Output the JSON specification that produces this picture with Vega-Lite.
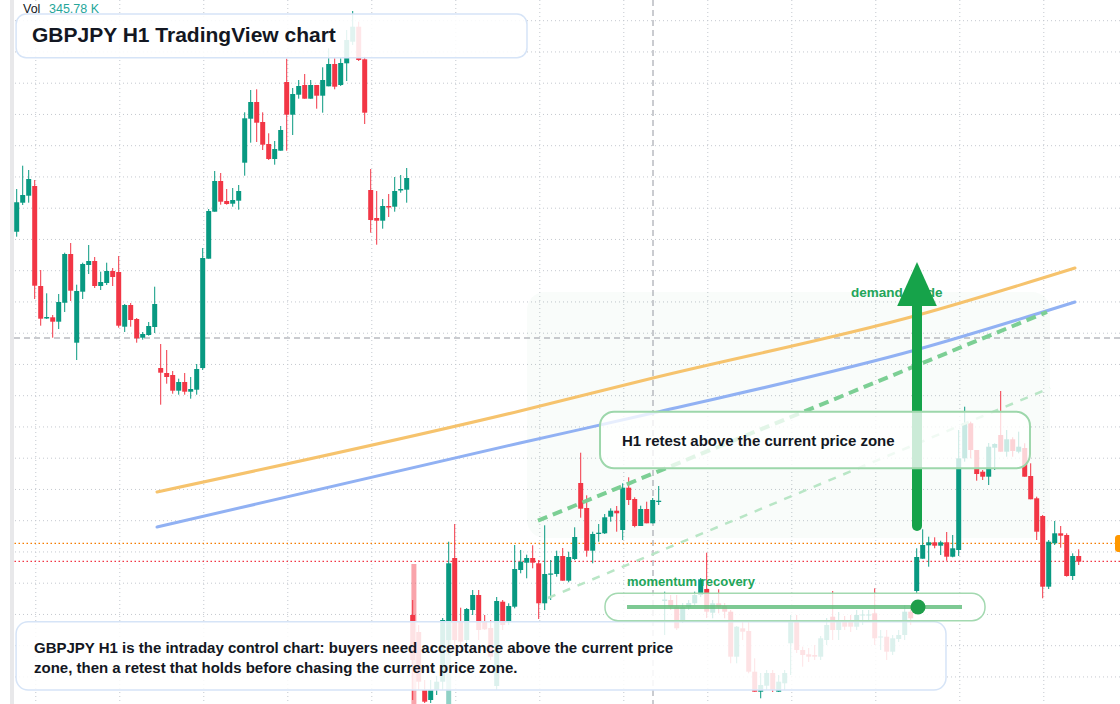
{
"$schema":"https://vega.github.io/schema/vega-lite/v6.json",
"width":1120,"height":704,"padding":0,
"autosize":{"type":"none"},
"background":"#ffffff",
"config":{"axis":{"disable":true},"view":{"stroke":null},"legend":{"disable":true},"scale":{"continuousPadding":0}},
"datasets":{
"candles":[
{"t":0,"o":198.683,"h":199.11,"l":198.633,"c":198.977},
{"t":1,"o":198.973,"h":199.343,"l":198.95,"c":199.05},
{"t":2,"o":199.043,"h":199.3,"l":198.973,"c":199.21},
{"t":3,"o":199.14,"h":199.2,"l":198.01,"c":198.143},
{"t":4,"o":198.14,"h":198.3,"l":197.743,"c":197.813},
{"t":5,"o":197.815,"h":198.067,"l":197.81,"c":197.83},
{"t":6,"o":197.827,"h":197.85,"l":197.623,"c":197.783},
{"t":7,"o":197.783,"h":198.06,"l":197.71,"c":197.98},
{"t":8,"o":197.973,"h":198.473,"l":197.88,"c":198.46},
{"t":9,"o":198.46,"h":198.57,"l":197.99,"c":198.093},
{"t":10,"o":197.573,"h":198.153,"l":197.4,"c":198.09},
{"t":11,"o":198.083,"h":198.373,"l":198.01,"c":198.36},
{"t":12,"o":198.35,"h":198.55,"l":198.26,"c":198.39},
{"t":13,"o":198.39,"h":198.43,"l":198.12,"c":198.14},
{"t":14,"o":198.14,"h":198.283,"l":198.1,"c":198.18},
{"t":15,"o":198.17,"h":198.373,"l":198.15,"c":198.29},
{"t":16,"o":198.29,"h":198.32,"l":198.14,"c":198.23},
{"t":17,"o":198.28,"h":198.44,"l":197.723,"c":197.743},
{"t":18,"o":197.733,"h":197.96,"l":197.68,"c":197.95},
{"t":19,"o":197.95,"h":197.97,"l":197.733,"c":197.8},
{"t":20,"o":197.81,"h":197.82,"l":197.573,"c":197.617},
{"t":21,"o":197.623,"h":197.68,"l":197.603,"c":197.66},
{"t":22,"o":197.65,"h":197.78,"l":197.643,"c":197.74},
{"t":23,"o":197.73,"h":198.133,"l":197.67,"c":197.96},
{"t":24,"o":197.32,"h":197.56,"l":196.953,"c":197.273},
{"t":25,"o":197.27,"h":197.5,"l":197.163,"c":197.23},
{"t":26,"o":197.25,"h":197.29,"l":197.063,"c":197.093},
{"t":27,"o":197.093,"h":197.213,"l":197.053,"c":197.18},
{"t":28,"o":197.18,"h":197.27,"l":197.053,"c":197.083},
{"t":29,"o":197.083,"h":197.23,"l":197.013,"c":197.11},
{"t":30,"o":197.103,"h":197.36,"l":197.053,"c":197.31},
{"t":31,"o":197.32,"h":198.52,"l":197.3,"c":198.42},
{"t":32,"o":198.413,"h":198.91,"l":198.413,"c":198.89},
{"t":33,"o":198.883,"h":199.29,"l":198.883,"c":199.19},
{"t":34,"o":199.19,"h":199.27,"l":198.953,"c":198.983},
{"t":35,"o":198.99,"h":199.11,"l":198.953,"c":198.96},
{"t":36,"o":198.963,"h":199.12,"l":198.933,"c":199.0},
{"t":37,"o":198.993,"h":199.15,"l":198.903,"c":199.09},
{"t":38,"o":199.373,"h":199.877,"l":199.243,"c":199.817},
{"t":39,"o":199.813,"h":200.1,"l":199.573,"c":199.98},
{"t":40,"o":199.98,"h":200.107,"l":199.58,"c":199.773},
{"t":41,"o":199.78,"h":199.877,"l":199.5,"c":199.553},
{"t":42,"o":199.56,"h":199.667,"l":199.4,"c":199.41},
{"t":43,"o":199.41,"h":199.59,"l":199.353,"c":199.51},
{"t":44,"o":199.493,"h":199.74,"l":199.493,"c":199.7},
{"t":45,"o":200.18,"h":200.413,"l":199.493,"c":199.853},
{"t":46,"o":199.853,"h":200.12,"l":199.65,"c":200.06},
{"t":47,"o":200.053,"h":200.2,"l":200.013,"c":200.14},
{"t":48,"o":200.15,"h":200.26,"l":200.013,"c":200.013},
{"t":49,"o":200.013,"h":200.2,"l":200.013,"c":200.15},
{"t":50,"o":200.15,"h":200.15,"l":199.913,"c":200.043},
{"t":51,"o":200.043,"h":200.327,"l":199.873,"c":200.2},
{"t":52,"o":200.137,"h":200.517,"l":200.137,"c":200.36},
{"t":53,"o":200.36,"h":200.417,"l":200.107,"c":200.133},
{"t":54,"o":200.15,"h":200.417,"l":200.14,"c":200.37},
{"t":55,"o":200.367,"h":200.7,"l":200.19,"c":200.6},
{"t":56,"o":200.583,"h":200.89,"l":200.55,"c":200.733},
{"t":57,"o":200.733,"h":200.783,"l":200.39,"c":200.4},
{"t":58,"o":200.407,"h":200.433,"l":199.76,"c":199.873},
{"t":59,"o":199.1,"h":199.31,"l":198.673,"c":198.8},
{"t":60,"o":198.82,"h":199.09,"l":198.553,"c":198.793},
{"t":61,"o":198.793,"h":199.01,"l":198.713,"c":198.94},
{"t":62,"o":198.94,"h":199.06,"l":198.83,"c":198.925},
{"t":63,"o":198.933,"h":199.23,"l":198.883,"c":199.09},
{"t":64,"o":199.095,"h":199.25,"l":199.073,"c":199.11},
{"t":65,"o":199.103,"h":199.32,"l":198.973,"c":199.22},
{"t":66,"o":194.85,"h":195.0,"l":194.0,"c":194.4},
{"t":67,"o":194.68,"h":194.75,"l":194.1,"c":194.183},
{"t":68,"o":194.1,"h":194.2,"l":193.97,"c":193.983},
{"t":69,"o":194.0,"h":194.2,"l":193.97,"c":194.1},
{"t":70,"o":194.1,"h":194.24,"l":194.05,"c":194.183},
{"t":71,"o":194.183,"h":194.82,"l":194.1,"c":194.8},
{"t":72,"o":194.6,"h":195.583,"l":194.45,"c":195.367},
{"t":73,"o":195.42,"h":195.76,"l":194.5,"c":194.6},
{"t":74,"o":194.79,"h":194.923,"l":194.52,"c":194.583},
{"t":75,"o":194.6,"h":194.92,"l":194.55,"c":194.91},
{"t":76,"o":194.9,"h":195.1,"l":194.85,"c":195.05},
{"t":77,"o":195.05,"h":195.1,"l":194.6,"c":194.7},
{"t":78,"o":194.79,"h":194.85,"l":194.7,"c":194.707},
{"t":79,"o":194.72,"h":194.8,"l":194.4,"c":194.433},
{"t":80,"o":194.14,"h":195.03,"l":194.1,"c":194.99},
{"t":81,"o":194.983,"h":195.0,"l":194.7,"c":194.75},
{"t":82,"o":194.787,"h":194.967,"l":194.75,"c":194.94},
{"t":83,"o":194.933,"h":195.55,"l":194.917,"c":195.31},
{"t":84,"o":195.3,"h":195.5,"l":195.267,"c":195.383},
{"t":85,"o":195.373,"h":195.453,"l":195.217,"c":195.42},
{"t":86,"o":195.42,"h":195.547,"l":195.317,"c":195.373},
{"t":87,"o":195.367,"h":195.4,"l":194.81,"c":194.967},
{"t":88,"o":194.967,"h":195.747,"l":194.9,"c":195.26},
{"t":89,"o":195.253,"h":195.4,"l":195.0,"c":195.265},
{"t":90,"o":195.26,"h":195.493,"l":195.233,"c":195.44},
{"t":91,"o":195.44,"h":195.52,"l":195.193,"c":195.193},
{"t":92,"o":195.193,"h":195.483,"l":195.177,"c":195.43},
{"t":93,"o":195.41,"h":195.727,"l":195.4,"c":195.63},
{"t":94,"o":196.17,"h":196.473,"l":195.823,"c":195.913},
{"t":95,"o":195.92,"h":196.047,"l":195.433,"c":195.493},
{"t":96,"o":195.493,"h":195.683,"l":195.367,"c":195.66},
{"t":97,"o":195.66,"h":195.76,"l":195.583,"c":195.673},
{"t":98,"o":195.667,"h":195.86,"l":195.66,"c":195.827},
{"t":99,"o":195.833,"h":195.917,"l":195.783,"c":195.893},
{"t":100,"o":195.893,"h":195.94,"l":195.683,"c":195.867},
{"t":101,"o":195.7,"h":196.167,"l":195.6,"c":196.123},
{"t":102,"o":196.123,"h":196.227,"l":195.95,"c":196.0},
{"t":103,"o":196.01,"h":196.027,"l":195.727,"c":195.74},
{"t":104,"o":195.74,"h":195.943,"l":195.74,"c":195.91},
{"t":105,"o":195.91,"h":195.983,"l":195.767,"c":195.767},
{"t":106,"o":195.767,"h":196.02,"l":195.767,"c":196.0},
{"t":107,"o":195.98,"h":196.14,"l":195.95,"c":195.993},
{"t":108,"o":194.99,"h":195.083,"l":194.65,"c":195.005},
{"t":109,"o":195.0,"h":195.05,"l":194.9,"c":194.933},
{"t":110,"o":194.933,"h":195.05,"l":194.7,"c":194.717},
{"t":111,"o":194.783,"h":194.97,"l":194.77,"c":194.93},
{"t":112,"o":194.927,"h":195.0,"l":194.9,"c":194.97},
{"t":113,"o":194.967,"h":195.083,"l":194.95,"c":195.05},
{"t":114,"o":195.05,"h":195.22,"l":195.03,"c":195.207},
{"t":115,"o":195.11,"h":195.473,"l":194.82,"c":194.883},
{"t":116,"o":194.873,"h":195.0,"l":194.817,"c":194.967},
{"t":117,"o":194.967,"h":195.107,"l":194.867,"c":194.927},
{"t":118,"o":194.94,"h":194.97,"l":194.817,"c":194.883},
{"t":119,"o":194.883,"h":194.9,"l":194.367,"c":194.433},
{"t":120,"o":194.433,"h":194.74,"l":194.367,"c":194.733},
{"t":121,"o":194.717,"h":194.8,"l":194.6,"c":194.683},
{"t":122,"o":194.69,"h":194.8,"l":194.267,"c":194.283},
{"t":123,"o":194.283,"h":194.417,"l":194.083,"c":194.083},
{"t":124,"o":194.083,"h":194.27,"l":194.017,"c":194.15},
{"t":125,"o":194.143,"h":194.3,"l":194.1,"c":194.27},
{"t":126,"o":194.27,"h":194.3,"l":194.08,"c":194.1},
{"t":127,"o":194.083,"h":194.25,"l":194.08,"c":194.183},
{"t":128,"o":194.167,"h":194.3,"l":194.1,"c":194.27},
{"t":129,"o":194.567,"h":194.85,"l":194.25,"c":194.8},
{"t":130,"o":194.8,"h":194.85,"l":194.47,"c":194.5},
{"t":131,"o":194.5,"h":194.533,"l":194.333,"c":194.45},
{"t":132,"o":194.457,"h":194.52,"l":194.38,"c":194.433},
{"t":133,"o":194.45,"h":194.55,"l":194.4,"c":194.433},
{"t":134,"o":194.433,"h":194.64,"l":194.4,"c":194.617},
{"t":135,"o":194.6,"h":194.82,"l":194.55,"c":194.75},
{"t":136,"o":194.833,"h":195.09,"l":194.6,"c":194.7},
{"t":137,"o":194.7,"h":194.88,"l":194.6,"c":194.8},
{"t":138,"o":194.783,"h":194.84,"l":194.7,"c":194.733},
{"t":139,"o":194.783,"h":194.85,"l":194.68,"c":194.733},
{"t":140,"o":194.733,"h":194.9,"l":194.7,"c":194.85},
{"t":141,"o":194.845,"h":194.9,"l":194.75,"c":194.855},
{"t":142,"o":194.845,"h":194.9,"l":194.8,"c":194.855},
{"t":143,"o":194.867,"h":195.117,"l":194.55,"c":194.617},
{"t":144,"o":194.625,"h":194.7,"l":194.5,"c":194.635},
{"t":145,"o":194.633,"h":194.7,"l":194.4,"c":194.483},
{"t":146,"o":194.483,"h":194.65,"l":194.45,"c":194.617},
{"t":147,"o":194.61,"h":194.7,"l":194.58,"c":194.65},
{"t":148,"o":194.65,"h":194.95,"l":194.6,"c":194.883},
{"t":149,"o":194.883,"h":194.95,"l":194.75,"c":194.817},
{"t":150,"o":195.09,"h":195.517,"l":195.067,"c":195.43},
{"t":151,"o":195.413,"h":195.707,"l":195.413,"c":195.55},
{"t":152,"o":195.547,"h":195.633,"l":195.333,"c":195.577},
{"t":153,"o":195.577,"h":195.627,"l":195.517,"c":195.543},
{"t":154,"o":195.543,"h":195.593,"l":195.45,"c":195.577},
{"t":155,"o":195.577,"h":195.68,"l":195.393,"c":195.433},
{"t":156,"o":195.433,"h":195.65,"l":195.427,"c":195.517},
{"t":157,"o":195.5,"h":196.7,"l":195.44,"c":196.417},
{"t":158,"o":196.417,"h":196.933,"l":196.383,"c":196.767},
{"t":159,"o":196.767,"h":196.783,"l":196.417,"c":196.5},
{"t":160,"o":196.5,"h":196.5,"l":196.193,"c":196.26},
{"t":161,"o":196.283,"h":196.3,"l":196.2,"c":196.233},
{"t":162,"o":196.233,"h":196.57,"l":196.15,"c":196.533},
{"t":163,"o":196.523,"h":196.567,"l":196.3,"c":196.56},
{"t":164,"o":196.65,"h":197.09,"l":196.483,"c":196.483},
{"t":165,"o":196.483,"h":196.7,"l":196.433,"c":196.607},
{"t":166,"o":196.607,"h":196.627,"l":196.433,"c":196.49},
{"t":167,"o":196.483,"h":196.683,"l":196.467,"c":196.533},
{"t":168,"o":196.52,"h":196.567,"l":196.233,"c":196.233},
{"t":169,"o":196.24,"h":196.367,"l":196.007,"c":196.007},
{"t":170,"o":196.017,"h":196.033,"l":195.6,"c":195.683},
{"t":171,"o":195.84,"h":195.85,"l":195.017,"c":195.133},
{"t":172,"o":195.133,"h":195.6,"l":195.11,"c":195.583},
{"t":173,"o":195.567,"h":195.79,"l":195.55,"c":195.667},
{"t":174,"o":195.667,"h":195.74,"l":195.523,"c":195.643},
{"t":175,"o":195.65,"h":195.667,"l":195.233,"c":195.24},
{"t":176,"o":195.24,"h":195.467,"l":195.2,"c":195.44},
{"t":177,"o":195.44,"h":195.507,"l":195.35,"c":195.383}
],
"vol":[{"t":66.2,"p":195.36,"dir":"down"},{"t":72,"p":194.8,"dir":"up"}],
"gridy":[{"p":200.793},{"p":200.4805},{"p":200.168},{"p":199.8555},{"p":199.543},{"p":199.2305},{"p":198.918},{"p":198.6055},{"p":198.293},{"p":197.9805},{"p":197.668},{"p":197.3555},{"p":197.043},{"p":196.7305},{"p":196.418},{"p":196.1055},{"p":195.793},{"p":195.4805},{"p":195.168},{"p":194.8555},{"p":194.543},{"p":194.2305}],
"gridx":[{"t":3.183},{"t":17.183},{"t":31.183},{"t":45.183},{"t":59.183},{"t":73.183},{"t":87.183},{"t":101.183},{"t":115.183},{"t":129.183},{"t":143.183},{"t":157.183},{"t":171.183}],
"orange":[{"t":23.38,"p":196.08},{"t":83.88,"p":196.89},{"t":106.05,"p":197.22},{"t":150.25,"p":197.85},{"t":176.38,"p":198.32}],
"blue":[{"t":23.38,"p":195.73},{"t":83.88,"p":196.57},{"t":106.05,"p":196.87},{"t":150.25,"p":197.507},{"t":176.38,"p":197.98}]
},
"layer":[
{"data":{"name":"gridy"},"mark":{"type":"rule","strokeDash":[1,3],"color":"#c4c8cf","strokeWidth":1},
 "encoding":{"y":{"field":"p","type":"quantitative","scale":{"domain":[193.96,201.0]}}}},
{"data":{"name":"gridx"},"mark":{"type":"rule","strokeDash":[1,3],"color":"#c4c8cf","strokeWidth":1},
 "encoding":{"x":{"field":"t","type":"quantitative","scale":{"domain":[-2.783,183.883]}}}},
{"data":{"values":[{"t":85.05,"t2":172.22,"p":198.08,"p2":195.62}]},"mark":{"type":"rect","color":"#16a34a","opacity":0.028,"cornerRadius":18},
 "encoding":{"x":{"field":"t","type":"quantitative","scale":{"domain":[-2.783,183.883]}},"x2":{"field":"t2"},"y":{"field":"p","type":"quantitative","scale":{"domain":[193.96,201.0]}},"y2":{"field":"p2"}}},
{"data":{"name":"vol"},"mark":{"type":"bar","width":5,"opacity":0.45},
 "encoding":{"x":{"field":"t","type":"quantitative","scale":{"domain":[-2.783,183.883]}},"y":{"field":"p","type":"quantitative","scale":{"domain":[193.96,201.0]}},"y2":{"datum":193.96},
  "color":{"condition":{"test":"datum.dir == 'up'","value":"#089981"},"value":"#f23645"}}},
{"data":{"values":[{"p":195.567}]},"mark":{"type":"rule","strokeDash":[1.5,2.5],"color":"#f57c00","strokeWidth":1.2},
 "encoding":{"y":{"field":"p","type":"quantitative","scale":{"domain":[193.96,201.0]}}}},
{"data":{"values":[{"p":195.387}]},"mark":{"type":"rule","strokeDash":[1.5,2.5],"color":"#f23645","strokeWidth":1.2},
 "encoding":{"y":{"field":"p","type":"quantitative","scale":{"domain":[193.96,201.0]}}}},
{"data":{"values":[{"p":197.62}]},"mark":{"type":"rule","strokeDash":[6,4],"color":"#9598a1","strokeWidth":1},
 "encoding":{"y":{"field":"p","type":"quantitative","scale":{"domain":[193.96,201.0]}}}},
{"data":{"values":[{"t":106.05}]},"mark":{"type":"rule","strokeDash":[6,4],"color":"#9598a1","strokeWidth":1},
 "encoding":{"x":{"field":"t","type":"quantitative","scale":{"domain":[-2.783,183.883]}}}},
{"data":{"name":"candles"},"mark":{"type":"rule","strokeWidth":1},
 "encoding":{"x":{"field":"t","type":"quantitative","scale":{"domain":[-2.783,183.883]}},"y":{"field":"l","type":"quantitative","scale":{"domain":[193.96,201.0]}},"y2":{"field":"h"},
  "color":{"condition":{"test":"datum.c >= datum.o","value":"#089981"},"value":"#f23645"}}},
{"data":{"name":"candles"},"mark":{"type":"bar","width":5},
 "encoding":{"x":{"field":"t","type":"quantitative","scale":{"domain":[-2.783,183.883]}},"y":{"field":"o","type":"quantitative","scale":{"domain":[193.96,201.0]}},"y2":{"field":"c"},
  "color":{"condition":{"test":"datum.c >= datum.o","value":"#089981"},"value":"#f23645"}}},
{"data":{"name":"orange"},"mark":{"type":"line","color":"#f6c36d","strokeWidth":3,"interpolate":"monotone","strokeCap":"round"},
 "encoding":{"x":{"field":"t","type":"quantitative","scale":{"domain":[-2.783,183.883]}},"y":{"field":"p","type":"quantitative","scale":{"domain":[193.96,201.0]}}}},
{"data":{"name":"blue"},"mark":{"type":"line","color":"#91b1f3","strokeWidth":3,"interpolate":"monotone","strokeCap":"round"},
 "encoding":{"x":{"field":"t","type":"quantitative","scale":{"domain":[-2.783,183.883]}},"y":{"field":"p","type":"quantitative","scale":{"domain":[193.96,201.0]}}}},
{"data":{"values":[{"t":86.88,"p":195.793},{"t":171.72,"p":197.88}]},"mark":{"type":"line","color":"#7ccf94","strokeWidth":4,"strokeDash":[10,6]},
 "encoding":{"x":{"field":"t","type":"quantitative","scale":{"domain":[-2.783,183.883]}},"y":{"field":"p","type":"quantitative","scale":{"domain":[193.96,201.0]}}}},
{"data":{"values":[{"t":88.55,"p":195.02},{"t":172.22,"p":197.12}]},"mark":{"type":"line","color":"#b9e6c6","strokeWidth":2.5,"strokeDash":[8,8]},
 "encoding":{"x":{"field":"t","type":"quantitative","scale":{"domain":[-2.783,183.883]}},"y":{"field":"p","type":"quantitative","scale":{"domain":[193.96,201.0]}}}},
{"data":{"values":[{"t":139.05,"p":198.07,"txt":"demand guide"}]},"mark":{"type":"text","align":"left","baseline":"middle","font":"Liberation Sans","fontWeight":"bold","fontSize":13.5,"color":"#22a559"},
 "encoding":{"x":{"field":"t","type":"quantitative","scale":{"domain":[-2.783,183.883]}},"y":{"field":"p","type":"quantitative","scale":{"domain":[193.96,201.0]}},"text":{"field":"txt"}}},
{"data":{"values":[{"t":150.05,"p":195.74,"p2":198.0}]},"mark":{"type":"rule","color":"#16a34a","strokeWidth":10,"strokeCap":"round"},
 "encoding":{"x":{"field":"t","type":"quantitative","scale":{"domain":[-2.783,183.883]}},"y":{"field":"p","type":"quantitative","scale":{"domain":[193.96,201.0]}},"y2":{"field":"p2"}}},
{"data":{"values":[{"t":150.05,"p":198.16}]},"mark":{"type":"point","shape":"M0,-1L0.9,1L-0.9,1Z","size":1936,"filled":true,"opacity":1,"color":"#16a34a"},
 "encoding":{"x":{"field":"t","type":"quantitative","scale":{"domain":[-2.783,183.883]}},"y":{"field":"p","type":"quantitative","scale":{"domain":[193.96,201.0]}}}},
{"data":{"values":[{"t":-0.1,"t2":85.05,"p":200.86,"p2":200.423}]},"mark":{"type":"rect","fill":"#ffffff","fillOpacity":0.88,"stroke":"#d6e4f7","strokeWidth":1.5,"cornerRadius":10},
 "encoding":{"x":{"field":"t","type":"quantitative","scale":{"domain":[-2.783,183.883]}},"x2":{"field":"t2"},"y":{"field":"p","type":"quantitative","scale":{"domain":[193.96,201.0]}},"y2":{"field":"p2"}}},
{"data":{"values":[{"t":-0.1,"t2":154.88,"p":194.783,"p2":194.1}]},"mark":{"type":"rect","fill":"#ffffff","fillOpacity":0.86,"stroke":"#d6e4f7","strokeWidth":1.5,"cornerRadius":12},
 "encoding":{"x":{"field":"t","type":"quantitative","scale":{"domain":[-2.783,183.883]}},"x2":{"field":"t2"},"y":{"field":"p","type":"quantitative","scale":{"domain":[193.96,201.0]}},"y2":{"field":"p2"}}},
{"data":{"values":[{"t":97.22,"t2":168.88,"p":196.883,"p2":196.317}]},"mark":{"type":"rect","fill":"#ffffff","fillOpacity":0.78,"stroke":"#9dd7ab","strokeWidth":2,"cornerRadius":14},
 "encoding":{"x":{"field":"t","type":"quantitative","scale":{"domain":[-2.783,183.883]}},"x2":{"field":"t2"},"y":{"field":"p","type":"quantitative","scale":{"domain":[193.96,201.0]}},"y2":{"field":"p2"}}},
{"data":{"values":[{"t":98.05,"t2":161.38,"p":195.067,"p2":194.793}]},"mark":{"type":"rect","fill":"#ffffff","fillOpacity":0.8,"stroke":"#a3d9b0","strokeWidth":1.5,"cornerRadius":13},
 "encoding":{"x":{"field":"t","type":"quantitative","scale":{"domain":[-2.783,183.883]}},"x2":{"field":"t2"},"y":{"field":"p","type":"quantitative","scale":{"domain":[193.96,201.0]}},"y2":{"field":"p2"}}},
{"data":{"values":[{"t":101.72,"t2":157.55,"p":194.93}]},"mark":{"type":"rule","color":"#5dbb78","opacity":0.8,"strokeWidth":4},
 "encoding":{"x":{"field":"t","type":"quantitative","scale":{"domain":[-2.783,183.883]}},"x2":{"field":"t2"},"y":{"field":"p","type":"quantitative","scale":{"domain":[193.96,201.0]}}}},
{"data":{"values":[{"t":150.22,"p":194.93}]},"mark":{"type":"point","shape":"circle","size":225,"filled":true,"opacity":1,"color":"#1f9e4b"},
 "encoding":{"x":{"field":"t","type":"quantitative","scale":{"domain":[-2.783,183.883]}},"y":{"field":"p","type":"quantitative","scale":{"domain":[193.96,201.0]}}}},
{"data":{"values":[{"t":2.55,"p":200.64,"txt":"GBPJPY H1 TradingView chart"}]},"mark":{"type":"text","align":"left","baseline":"middle","font":"Liberation Sans","fontWeight":"bold","fontSize":21,"color":"#131722"},
 "encoding":{"x":{"field":"t","type":"quantitative","scale":{"domain":[-2.783,183.883]}},"y":{"field":"p","type":"quantitative","scale":{"domain":[193.96,201.0]}},"text":{"field":"txt"}}},
{"data":{"values":[{"t":2.88,"p":194.52,"txt":"GBPJPY H1 is the intraday control chart: buyers need acceptance above the current price"},{"t":2.88,"p":194.32,"txt":"zone, then a retest that holds before chasing the current price zone."}]},"mark":{"type":"text","align":"left","baseline":"middle","font":"Liberation Sans","fontWeight":"bold","fontSize":15,"color":"#131722"},
 "encoding":{"x":{"field":"t","type":"quantitative","scale":{"domain":[-2.783,183.883]}},"y":{"field":"p","type":"quantitative","scale":{"domain":[193.96,201.0]}},"text":{"field":"txt"}}},
{"data":{"values":[{"t":100.88,"p":196.59,"txt":"H1 retest above the current price zone"}]},"mark":{"type":"text","align":"left","baseline":"middle","font":"Liberation Sans","fontWeight":"bold","fontSize":15,"color":"#131722"},
 "encoding":{"x":{"field":"t","type":"quantitative","scale":{"domain":[-2.783,183.883]}},"y":{"field":"p","type":"quantitative","scale":{"domain":[193.96,201.0]}},"text":{"field":"txt"}}},
{"data":{"values":[{"t":101.72,"p":195.18,"txt":"momentum recovery"}]},"mark":{"type":"text","align":"left","baseline":"middle","font":"Liberation Sans","fontWeight":"bold","fontSize":13,"color":"#22a559"},
 "encoding":{"x":{"field":"t","type":"quantitative","scale":{"domain":[-2.783,183.883]}},"y":{"field":"p","type":"quantitative","scale":{"domain":[193.96,201.0]}},"text":{"field":"txt"}}},
{"data":{"values":[{"t":1.05,"p":200.91,"txt":"Vol"}]},"mark":{"type":"text","align":"left","baseline":"middle","font":"Liberation Sans","fontSize":12.5,"color":"#131722"},
 "encoding":{"x":{"field":"t","type":"quantitative","scale":{"domain":[-2.783,183.883]}},"y":{"field":"p","type":"quantitative","scale":{"domain":[193.96,201.0]}},"text":{"field":"txt"}}},
{"data":{"values":[{"t":5.38,"p":200.91,"txt":"345.78 K"}]},"mark":{"type":"text","align":"left","baseline":"middle","font":"Liberation Sans","fontSize":12.5,"color":"#26a69a"},
 "encoding":{"x":{"field":"t","type":"quantitative","scale":{"domain":[-2.783,183.883]}},"y":{"field":"p","type":"quantitative","scale":{"domain":[193.96,201.0]}},"text":{"field":"txt"}}},
{"data":{"values":[{"t":-2.783,"t2":-1.117,"p":193.96,"p2":201.0}]},"mark":{"type":"rect","color":"#ffffff","opacity":1},
 "encoding":{"x":{"field":"t","type":"quantitative","scale":{"domain":[-2.783,183.883]}},"x2":{"field":"t2"},"y":{"field":"p","type":"quantitative","scale":{"domain":[193.96,201.0]}},"y2":{"field":"p2"}}},
{"data":{"values":[{"t":-1.117,"t2":-0.45,"p":193.96,"p2":201.0}]},"mark":{"type":"rect","color":"#e8e8ea","opacity":1},
 "encoding":{"x":{"field":"t","type":"quantitative","scale":{"domain":[-2.783,183.883]}},"x2":{"field":"t2"},"y":{"field":"p","type":"quantitative","scale":{"domain":[193.96,201.0]}},"y2":{"field":"p2"}}},
{"data":{"values":[{"t":183.05,"t2":184.5,"p":195.65,"p2":195.48}]},"mark":{"type":"rect","color":"#ff9800","opacity":1,"cornerRadius":3},
 "encoding":{"x":{"field":"t","type":"quantitative","scale":{"domain":[-2.783,183.883]}},"x2":{"field":"t2"},"y":{"field":"p","type":"quantitative","scale":{"domain":[193.96,201.0]}},"y2":{"field":"p2"}}}
]
}
